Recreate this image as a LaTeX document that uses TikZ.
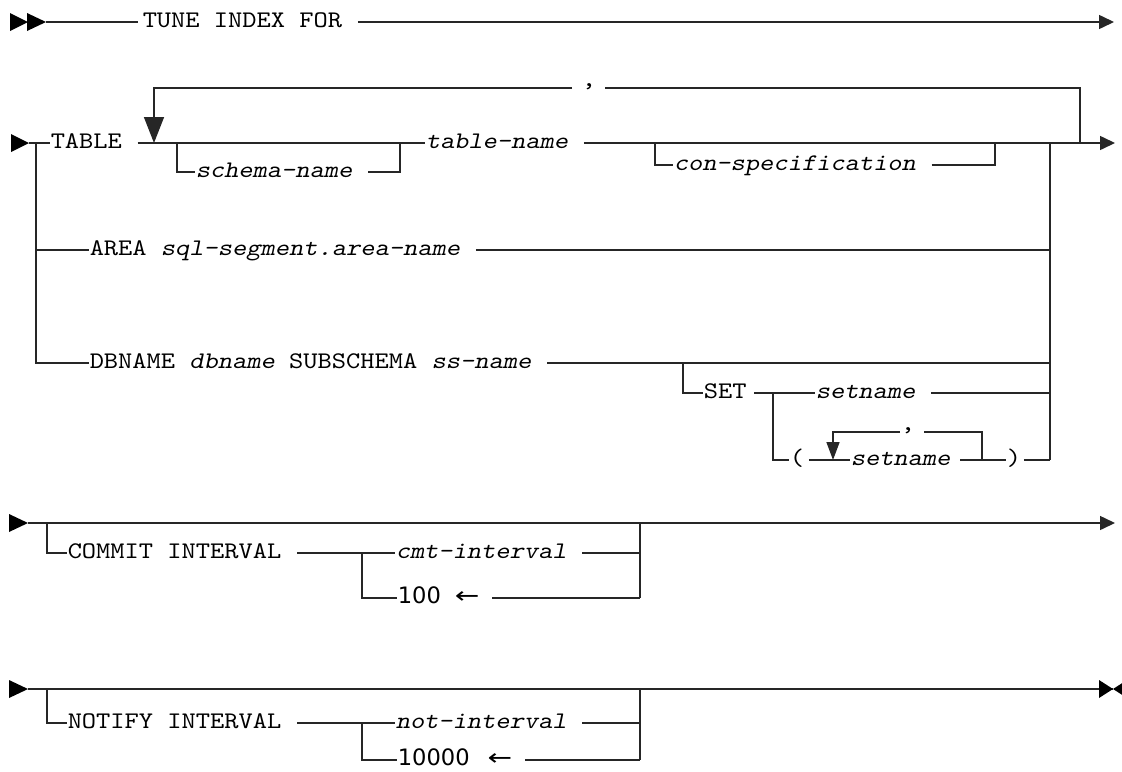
\documentclass[tikz,border=0pt]{standalone}
\usepackage{fontspec}
\setmonofont[FakeStretch=1.14,ItalicFont=lmmono10-regular.otf,ItalicFeatures={FakeSlant=0.21}]{lmmono10-regular.otf}
\newfontfamily\numfont{DejaVu Sans}
\usetikzlibrary{arrows.meta}

\begin{document}
\begin{tikzpicture}[
    x=0.5pt, y=-0.5pt,
    line width=0.75pt, black!85,
    txt/.style={inner sep=0pt, anchor=west, text height=7pt, text depth=2pt, text=black, font=\fontsize{11.9}{14}\selectfont\ttfamily},
    var/.style={txt, font=\fontsize{11.9}{14}\selectfont\ttfamily\itshape},
    dflt/.style={txt, font=\fontsize{11.3}{14}\selectfont\numfont},
    gap/.style={shorten <=7.5pt},
    into/.style={shorten >=2pt},
    endarrow/.style={-{Triangle[length=7.5pt,width=7pt]}},
    looparrow/.style={-{Triangle[length=13pt,width=10pt]}},
    smallarrow/.style={-{Triangle[length=9pt,width=6.5pt]}}
]
    \useasboundingbox (0,0) rectangle (1122,771);

    % statement start
    \fill[black] (10,13) -- (28,22) -- (10,31) -- cycle;
    \fill[black] (27,13) -- (46,22) -- (27,31) -- cycle;
    \coordinate (r1s) at (46,22);
    \coordinate (r1e) at (1114,22);
    \node[txt] (tune) at (142,22) {TUNE INDEX FOR};
    \draw[into] (r1s) -- (tune.west);
    \draw[gap,endarrow] (tune.east) -- (r1e);

    % TABLE branch
    \fill[black] (11,134) -- (29,143) -- (11,152) -- cycle;
    \coordinate (r2s) at (29,143);
    \coordinate (lj) at (36,143);
    \coordinate (ljb) at (36,363);
    \coordinate (la) at (36,250);
    \node[txt] (tbl) at (50,143) {TABLE};
    \node[var] (tname) at (425,143) {table-name};
    \coordinate (r2e) at (1115,143);
    \draw (r2s) -- (tbl.west);
    \draw[gap] (tbl.east) -- (tname.west);
    \draw[gap,endarrow] (tname.east) -- (r2e);

    % repeat loop
    \coordinate (lpin) at (154,143);
    \coordinate (lptl) at (154,88);
    \coordinate (lptr) at (1080,88);
    \coordinate (lpout) at (1080,143);
    \node[txt] (cm1) at (581,88) {\raisebox{3.5pt}{,}};
    \draw[shorten >=4pt] (lpout) -- (lptr) -- (cm1.east);
    \draw[looparrow, shorten <=4.5pt] (cm1.west) -- (lptl) -- (lpin);

    % schema-name
    \coordinate (sc1) at (177,143);
    \coordinate (sc2) at (177,172);
    \coordinate (sc3) at (400,172);
    \coordinate (sc4) at (400,143);
    \node[var] (schema) at (195,172) {schema-name};
    \draw (sc1) -- (sc2) -- (schema.west);
    \draw[gap] (schema.east) -- (sc3) -- (sc4);

    % con-specification
    \coordinate (cn1) at (655,143);
    \coordinate (cn2) at (655,165);
    \coordinate (cn3) at (995,165);
    \coordinate (cn4) at (995,143);
    \node[var] (con) at (673,165) {con-specification};
    \draw (cn1) -- (cn2) -- (con.west);
    \draw[gap] (con.east) -- (cn3) -- (cn4);

    % AREA
    \node[txt] (area) at (89,250) {AREA \textit{sql-segment.area-name}};
    \coordinate (ra) at (1050,250);
    \draw (la) -- (area.west);
    \draw[gap] (area.east) -- (ra);

    % DBNAME
    \node[txt] (db) at (89,363) {DBNAME \textit{dbname} SUBSCHEMA \textit{ss-name}};
    \coordinate (rd) at (1050,363);
    \draw (lj) -- (ljb) -- (db.west);
    \draw[gap] (db.east) -- (rd);

    % collector
    \coordinate (rj) at (1050,143);
    \coordinate (rjb) at (1050,460);
    \draw (rj) -- (rjb);

    % SET
    \coordinate (st1) at (683,363);
    \coordinate (st2) at (683,393);
    \coordinate (sj) at (773,393);
    \coordinate (sjb) at (773,460);
    \coordinate (rs) at (1050,393);
    \node[txt] (set) at (703,393) {SET};
    \node[var] (setn) at (815,393) {setname};
    \draw (st1) -- (st2) -- (set.west);
    \draw[shorten <=3.5pt] (set.east) -- (sj) -- (setn.west);
    \draw[gap] (setn.east) -- (rs);

    \node[txt] (lp) at (789,460) {(};
    \node[var] (setn2) at (850,460) {setname};
    \node[txt] (rp) at (1006,460) {)};
    \coordinate (ilin) at (833,460);
    \coordinate (ilout) at (982,460);
    \coordinate (iltl) at (833,432);
    \coordinate (iltr) at (982,432);
    \node[txt] (cm2) at (900,432) {\raisebox{3.5pt}{,}};
    \draw (sj) -- (sjb) -- (lp.west);
    \draw[shorten <=2pt] (lp.east) -- (setn2.west);
    \draw[shorten <=4.5pt] (setn2.east) -- (rp.west);
    \draw[shorten <=1pt] (rp.east) -- (rjb);
    \draw[shorten >=4pt] (ilout) -- (iltr) -- (cm2.east);
    \draw[smallarrow] (cm2.west) -- (iltl) -- (ilin);

    % COMMIT INTERVAL
    \fill[black] (9,514) -- (28,523) -- (9,532) -- cycle;
    \coordinate (c0) at (28,523);
    \coordinate (cL) at (47,523);
    \coordinate (cL2) at (47,553);
    \coordinate (cB) at (362,553);
    \coordinate (cB2) at (362,598);
    \coordinate (cR) at (640,523);
    \coordinate (cR2) at (640,553);
    \coordinate (cR3) at (640,598);
    \coordinate (cE) at (1115,523);
    \node[txt] (cmt) at (67,553) {COMMIT INTERVAL};
    \node[var] (cmtv) at (395,553) {cmt-interval};
    \node[dflt] (c100) at (397,598) {100\hspace{7pt}\scalebox{1.3}[1]{←}};
    \draw[endarrow] (c0) -- (cE);
    \draw (cL) -- (cL2) -- (cmt.west);
    \draw[gap] (cmt.east) -- (cB) -- (cmtv.west);
    \draw[gap] (cmtv.east) -- (cR2);
    \draw (cR) -- (cR3);
    \draw (cB) -- (cB2) -- (c100.west);
    \draw[shorten <=6pt] (c100.east) -- (cR3);

    % NOTIFY INTERVAL
    \fill[black] (9,680) -- (28,689) -- (9,698) -- cycle;
    \coordinate (n0) at (28,689);
    \coordinate (nL) at (47,689);
    \coordinate (nL2) at (47,723);
    \coordinate (nB) at (362,723);
    \coordinate (nB2) at (362,760);
    \coordinate (nR) at (640,689);
    \coordinate (nR2) at (640,723);
    \coordinate (nR3) at (640,760);
    \coordinate (nE) at (1113,689);
    \node[txt] (ntf) at (67,723) {NOTIFY INTERVAL};
    \node[var] (notv) at (395,723) {not-interval};
    \node[dflt] (n10k) at (397,760) {10000\hspace{9pt}\scalebox{1.3}[1]{←}};
    \draw (n0) -- (nE);
    \fill[black] (1099,680) -- (nE) -- (1099,698) -- cycle;
    \fill[black] (1127,680) -- (nE) -- (1127,698) -- cycle;
    \draw (nL) -- (nL2) -- (ntf.west);
    \draw[gap] (ntf.east) -- (nB) -- (notv.west);
    \draw[gap] (notv.east) -- (nR2);
    \draw (nR) -- (nR3);
    \draw (nB) -- (nB2) -- (n10k.west);
    \draw[shorten <=6pt] (n10k.east) -- (nR3);
\end{tikzpicture}
\end{document}
